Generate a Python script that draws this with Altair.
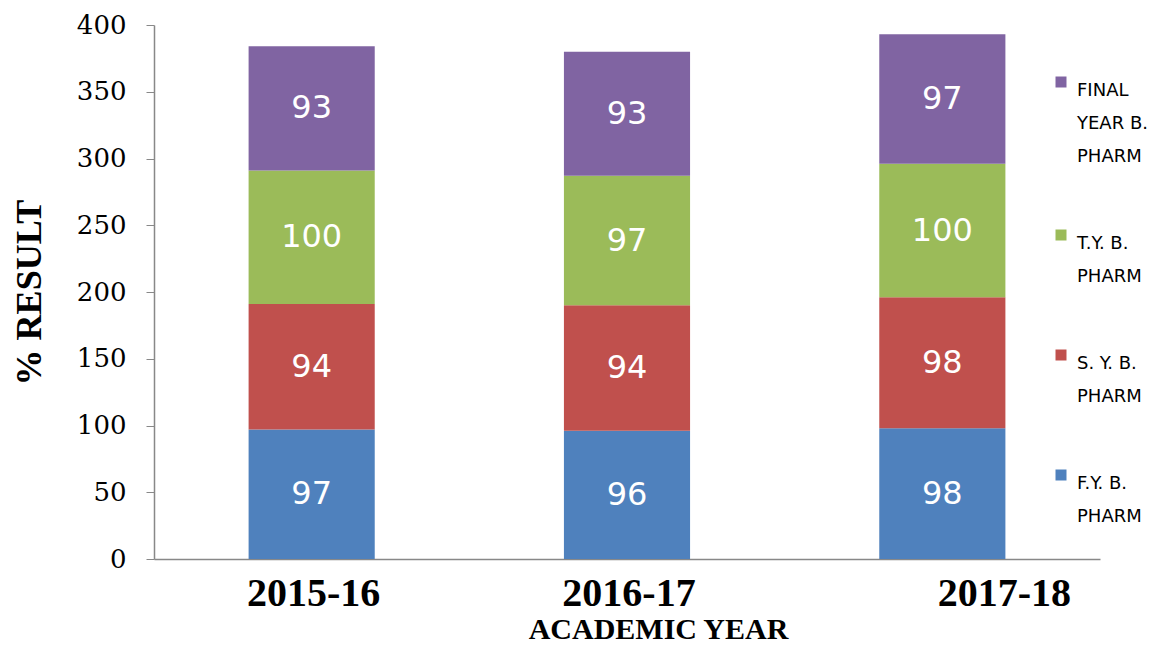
import altair as alt
import pandas as pd

years = ["2015-16", "2016-17", "2017-18"]
series = ["F.Y. B. PHARM", "S. Y. B. PHARM", "T.Y. B. PHARM", "FINAL YEAR B. PHARM"]
legend_order = ["FINAL YEAR B. PHARM", "T.Y. B. PHARM", "S. Y. B. PHARM", "F.Y. B. PHARM"]
colors = ["#8064A2", "#9BBB59", "#C0504D", "#4F81BD"]
fy = [97, 96, 98]
sy = [94, 94, 98]
ty = [100, 97, 100]
final = [93, 93, 97]

rows = []
for i, y in enumerate(years):
    for k, (s, vals) in enumerate(zip(series, [fy, sy, ty, final])):
        rows.append({"year": y, "series": s, "value": vals[i], "ord": k})
df = pd.DataFrame(rows)

base = alt.Chart(df).transform_stack(
    stack="value", groupby=["year"], sort=[alt.SortField("ord", order="ascending")], as_=["y0", "y1"]
).transform_calculate(mid="(datum.y0 + datum.y1) / 2")

xenc = alt.X(
    "year:N",
    sort=years,
    scale=alt.Scale(paddingInner=0.6, paddingOuter=0.3),
    axis=alt.Axis(
        title="ACADEMIC YEAR",
        titleFont="Liberation Serif",
        titleFontWeight="bold",
        titleFontSize=30,
        titleColor="#000000",
        titlePadding=1,
        titleX=504,
        labelFont="Liberation Serif",
        labelFontWeight="bold",
        labelFontSize=40,
        labelColor="#000000",
        labelAngle=0,
        labelPadding=14,
        labelOffset={"condition": {"test": "datum.value == '2017-18'", "value": 62}, "value": 2},
        ticks=False,
        domainColor="#888888",
        domainWidth=1.5,
    ),
)

bars = base.mark_bar().encode(
    x=xenc,
    y=alt.Y(
        "y0:Q",
        scale=alt.Scale(domain=[0, 400]),
        axis=alt.Axis(
            title="% RESULT",
            titleFont="Liberation Serif",
            titleFontWeight="bold",
            titleFontSize=36,
            titleColor="#000000",
            titlePadding=28,
            values=list(range(0, 401, 50)),
            labelFont="DejaVu Serif",
            labelFontSize=26,
            labelColor="#000000",
            labelPadding=20,
            tickSize=8,
            tickColor="#888888",
            domainColor="#888888",
            domainWidth=1.5,
            grid=False,
        ),
    ),
    y2="y1:Q",
    color=alt.Color(
        "series:N",
        scale=alt.Scale(domain=legend_order, range=colors),
        legend=alt.Legend(
            title=None,
            orient="none",
            legendX=898,
            legendY=48,
            symbolType="square",
            symbolSize=121,
            symbolStrokeWidth=0,
            labelFont="DejaVu Sans",
            labelFontSize=18,
            labelColor="#000000",
            labelBaseline="top",
            labelOffset=7,
            labelExpr="datum.label == 'FINAL YEAR B. PHARM' ? ['FINAL', 'YEAR B.', 'PHARM'] : [slice(datum.label, 0, indexof(datum.label, ' PHARM')), 'PHARM']",
            rowPadding=60,
            labelLimit=200,
        ),
    ),
    order=alt.Order("ord:Q"),
)

labels = base.mark_text(font="DejaVu Sans", fontSize=32, color="#ffffff").encode(
    x=alt.X("year:N", sort=years),
    y=alt.Y("mid:Q"),
    text=alt.Text("value:Q"),
)

chart = (
    alt.layer(bars, labels)
    .properties(
        width=946,
        height=534,
        autosize=alt.AutoSizeParams(type="none"),
        padding={"left": 146, "top": 17, "right": 51, "bottom": 86},
    )
    .configure(
        background="#ffffff",
        view=alt.ViewConfig(stroke=None),
        style={"guide-label": {"lineHeight": 33}},
    )
)

chart.save("out.html", embed_options={"renderer": "svg", "actions": False})
